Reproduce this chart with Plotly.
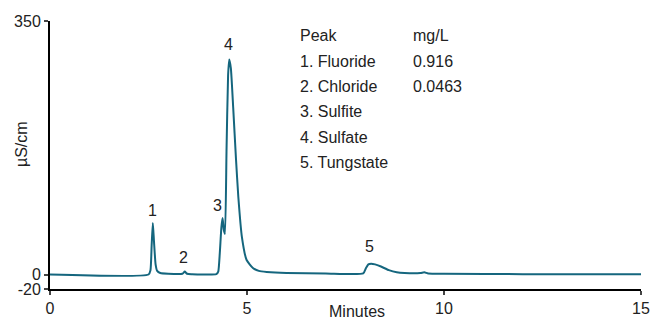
import plotly.graph_objects as go

# Chromatogram points (minutes, µS/cm)
time_min = [0.0, 2.50, 2.55, 2.58, 2.61, 2.64, 2.68, 2.72, 2.80, 3.00,
            3.36, 3.42, 3.48, 3.60, 4.22, 4.27, 4.31, 4.35, 4.38, 4.41,
            4.44, 4.48, 4.52, 4.55, 4.59, 4.65, 4.72, 4.78, 4.87, 4.99,
            5.15, 5.30, 5.50, 6.00, 7.00, 7.95, 8.02, 8.08, 8.15, 8.25,
            8.40, 8.60, 8.80, 9.00, 9.40, 9.50, 9.60, 10.0, 12.0, 15.0]
signal = [0.0, 0.0, 6.0, 40.0, 71.0, 45.0, 14.0, 5.0, 2.0, 1.0,
          1.0, 4.0, 1.0, 0.5, 0.5, 4.0, 30.0, 65.0, 78.0, 62.0,
          56.0, 170.0, 275.0, 297.0, 285.0, 230.0, 160.0, 107.0, 52.0, 20.0,
          9.0, 5.0, 3.5, 2.0, 1.5, 1.5, 9.0, 14.0, 15.0, 14.0,
          11.0, 6.0, 3.0, 2.0, 2.0, 3.0, 1.5, 1.0, 0.5, 0.5]

peak_labels = ["1", "2", "3", "4", "5"]
peak_label_x = [2.61, 3.38, 4.24, 4.54, 8.12]
peak_label_y = [88, 23, 95, 317, 38]

table_col1 = ["Peak", "1. Fluoride", "2. Chloride", "3. Sulfite", "4. Sulfate", "5. Tungstate"]
table_col2 = ["mg/L", "0.916", "0.0463", "", "", ""]

x_ticks = [0, 5, 10, 15]
y_ticks = [-20, 0, 350]
y_tick_text = ["-20", "0", "350"]

FONT = "Liberation Sans, Arial, Helvetica, sans-serif"
TEXT = "#222"
LINE_COLOR = "#15667e"

fig = go.Figure()
fig.add_trace(go.Scatter(x=time_min, y=signal, mode="lines",
                         line=dict(color=LINE_COLOR, width=2, shape="spline", smoothing=0.5),
                         hoverinfo="skip", showlegend=False))

for t, x, y in zip(peak_labels, peak_label_x, peak_label_y):
    fig.add_annotation(x=x, y=y, text=t, showarrow=False, xanchor="center", yanchor="middle",
                       font=dict(family=FONT, size=16, color=TEXT))

row_y0 = 329.4
row_step = 35.0
for i, (a, b) in enumerate(zip(table_col1, table_col2)):
    yy = row_y0 - i * row_step
    fig.add_annotation(x=6.29, y=yy, text=a, showarrow=False, xanchor="left", yanchor="middle",
                       font=dict(family=FONT, size=16, color=TEXT))
    if b:
        fig.add_annotation(x=9.17, y=yy, text=b, showarrow=False, xanchor="left", yanchor="middle",
                           font=dict(family=FONT, size=16, color=TEXT))

# axis titles
fig.add_annotation(xref="paper", yref="paper", x=0.519, y=-0.085, text="Minutes", showarrow=False,
                   xanchor="center", yanchor="middle", font=dict(family=FONT, size=16, color=TEXT))
fig.add_annotation(xref="paper", yref="paper", x=-0.03, y=0.54, text="µS/cm", textangle=-90,
                   showarrow=False, xanchor="right", yanchor="middle",
                   font=dict(family=FONT, size=16, color=TEXT))

fig.update_layout(
    width=653, height=322,
    margin=dict(l=50, r=12, t=21, b=33),
    paper_bgcolor="white", plot_bgcolor="white",
    font=dict(family=FONT, size=16, color=TEXT),
    xaxis=dict(range=[0, 15], tickvals=x_ticks, ticks="outside", ticklen=4, tickwidth=2,
               showline=True, linecolor="black", linewidth=2, showgrid=False, zeroline=False,
               automargin=False, tickfont=dict(size=16, color=TEXT)),
    yaxis=dict(range=[-20, 350], tickvals=y_ticks, ticktext=y_tick_text, ticks="outside",
               ticklen=4, tickwidth=2,
               showline=True, linecolor="black", linewidth=2, showgrid=False, zeroline=False,
               automargin=False, tickfont=dict(size=16, color=TEXT)),
)

fig.write_html("out.html")
